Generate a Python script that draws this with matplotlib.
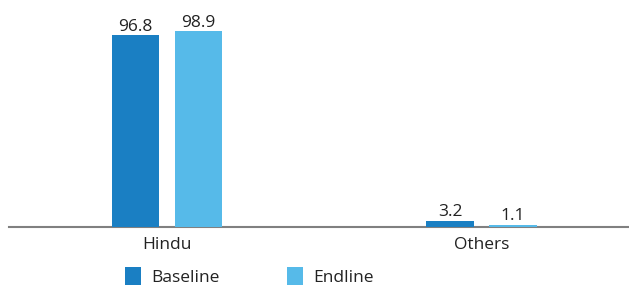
import matplotlib
matplotlib.use("Agg")
import matplotlib.pyplot as plt
import numpy as np

categories = ["Hindu", "Others"]
series_names = ["Baseline", "Endline"]
baseline = [96.8, 3.2]
endline = [98.9, 1.1]
colors = ["#1a7fc3", "#56bae9"]

plt.rcParams['font.family'] = ['Open Sans', 'DejaVu Sans']
FS = 12.5

W, H = 629, 288
fig = plt.figure(figsize=(W / 100, H / 100), dpi=100)
ax = fig.add_axes([9 / W, 61 / H, 1 - 9 / W, 198 / H])

x = np.arange(len(categories))
bw = 0.15
off = 0.1
for vals, name, col, d in [(baseline, series_names[0], colors[0], -off),
                           (endline, series_names[1], colors[1], off)]:
    bars = ax.bar(x + d, vals, width=bw, color=col, label=name, zorder=3)
    for b, v in zip(bars, vals):
        ax.text(b.get_x() + b.get_width() / 2, v + 0.3, f"{v:.1f}",
                ha="center", va="bottom", fontsize=FS, color="#222222")

ax.set_xlim(-0.502, 1.469)
ax.set_ylim(0, 100)
for s in ["top", "right", "left"]:
    ax.spines[s].set_visible(False)
ax.spines["bottom"].set_color("#808080")
ax.spines["bottom"].set_linewidth(1.5)
ax.spines["bottom"].set_zorder(1)
ax.set_yticks([])
ax.set_xticks(x)
ax.set_xticklabels(categories, fontsize=FS, color="#222222")
ax.tick_params(axis="x", length=0, pad=7)

px = FS * 100 / 72
leg = fig.legend(loc="upper left", bbox_to_anchor=(125 / W, 1 - 267 / H), ncol=2,
                 frameon=False, fontsize=FS, handlelength=16 / px,
                 handleheight=21 / px, columnspacing=68 / px,
                 handletextpad=10 / px, borderpad=0, borderaxespad=0,
                 labelcolor="#222222")

fig.savefig("out.png", dpi=100)
